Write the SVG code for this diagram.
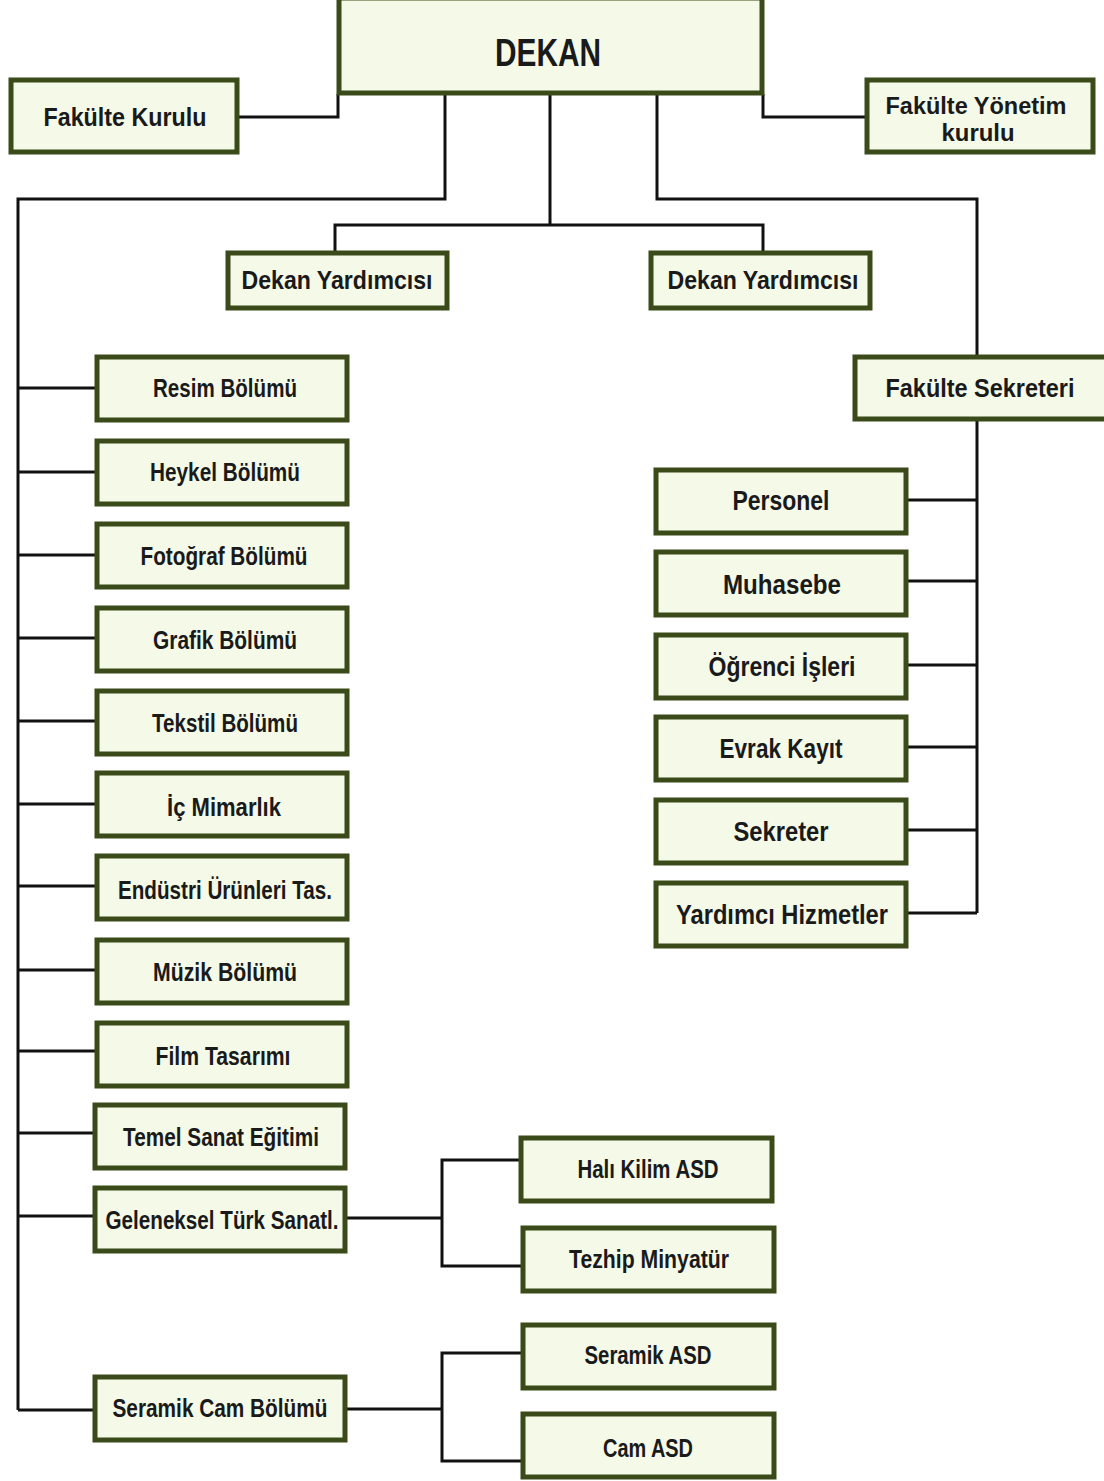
<svg xmlns="http://www.w3.org/2000/svg" width="1104" height="1481" viewBox="0 0 1104 1481">
<style>
.b rect{fill:#f4f9e8;stroke:#3a4a18;stroke-width:5}
.b text{font-family:"Liberation Sans",Arial,sans-serif;font-weight:bold;font-size:25px;fill:#1a1a1a;text-anchor:middle}
.b text.r{font-size:27px}
.b text.t{font-size:26px}
.b text.s{font-size:23px}
.c{fill:none;stroke:#111;stroke-width:3;stroke-linejoin:miter}
</style>
<rect width="1104" height="1481" fill="#fff"/>
<g id="connectors" class="c">
<path d="M238,117 H338 V94"/>
<path d="M763,94 V117 H866"/>
<path d="M445,94 V199 H18 V1410"/>
<path d="M550,94 V225"/>
<path d="M335,252 V225 H763 V252"/>
<path d="M657,94 V199 H977 V356"/>
<path d="M977,420 V913"/>
<path d="M907,500 H977 M907,581 H977 M907,665 H977 M907,747 H977 M907,830 H977 M907,913 H977"/>
<path d="M18,388 H96 M18,472 H96 M18,555 H96 M18,638 H96 M18,721 H96 M18,804 H96 M18,886 H96 M18,970 H96 M18,1051 H96 M18,1133 H94 M18,1216 H94 M18,1410 H94"/>
<path d="M346,1218 H442 M520,1160 H442 V1266 H522"/>
<path d="M346,1409 H442 M522,1353 H442 V1461 H522"/>
</g>
<g id="dekan" class="b"><rect x="339" y="-2" width="423" height="95"/><text x="548" y="66" style="font-size:38px" textLength="106" lengthAdjust="spacingAndGlyphs">DEKAN</text></g>
<g id="fakulte-kurulu" class="b"><rect x="11" y="80" width="226" height="72"/><text class="t" x="125" y="126" textLength="163" lengthAdjust="spacingAndGlyphs">Fakülte Kurulu</text></g>
<g id="fakulte-yonetim" class="b"><rect x="867" y="80" width="226" height="72"/><text class="s" x="976" y="114" textLength="181" lengthAdjust="spacingAndGlyphs">Fakülte Yönetim</text><text class="s" x="978" y="141" textLength="73" lengthAdjust="spacingAndGlyphs">kurulu</text></g>
<g id="dekan-yrd-1" class="b"><rect x="228" y="253" width="219" height="55"/><text class="t" x="337" y="289" textLength="191" lengthAdjust="spacingAndGlyphs">Dekan Yardımcısı</text></g>
<g id="dekan-yrd-2" class="b"><rect x="651" y="253" width="219" height="55"/><text class="t" x="763" y="289" textLength="191" lengthAdjust="spacingAndGlyphs">Dekan Yardımcısı</text></g>
<g id="fakulte-sekreteri" class="b"><rect x="855" y="357" width="252" height="62"/><text class="t" x="980" y="397" textLength="189" lengthAdjust="spacingAndGlyphs">Fakülte Sekreteri</text></g>
<g id="personel" class="b"><rect x="656" y="470" width="250" height="63"/><text class="r" x="781" y="510" textLength="97" lengthAdjust="spacingAndGlyphs">Personel</text></g>
<g id="muhasebe" class="b"><rect x="656" y="552" width="250" height="63"/><text class="r" x="782" y="594" textLength="118" lengthAdjust="spacingAndGlyphs">Muhasebe</text></g>
<g id="ogrenci" class="b"><rect x="656" y="635" width="250" height="63"/><text class="r" x="782" y="676" textLength="147" lengthAdjust="spacingAndGlyphs">Öğrenci İşleri</text></g>
<g id="evrak" class="b"><rect x="656" y="717" width="250" height="63"/><text class="r" x="781" y="758" textLength="123" lengthAdjust="spacingAndGlyphs">Evrak Kayıt</text></g>
<g id="sekreter" class="b"><rect x="656" y="800" width="250" height="63"/><text class="r" x="781" y="841" textLength="95" lengthAdjust="spacingAndGlyphs">Sekreter</text></g>
<g id="yardimci" class="b"><rect x="656" y="883" width="250" height="63"/><text class="r" x="782" y="924" textLength="212" lengthAdjust="spacingAndGlyphs">Yardımcı Hizmetler</text></g>
<g id="resim" class="b"><rect x="97" y="357" width="250" height="63"/><text x="225" y="397" textLength="144" lengthAdjust="spacingAndGlyphs">Resim Bölümü</text></g>
<g id="heykel" class="b"><rect x="97" y="441" width="250" height="63"/><text x="225" y="481" textLength="150" lengthAdjust="spacingAndGlyphs">Heykel Bölümü</text></g>
<g id="fotograf" class="b"><rect x="97" y="524" width="250" height="63"/><text x="224" y="565" textLength="167" lengthAdjust="spacingAndGlyphs">Fotoğraf Bölümü</text></g>
<g id="grafik" class="b"><rect x="97" y="608" width="250" height="63"/><text x="225" y="649" textLength="144" lengthAdjust="spacingAndGlyphs">Grafik Bölümü</text></g>
<g id="tekstil" class="b"><rect x="97" y="691" width="250" height="63"/><text x="225" y="732" textLength="146" lengthAdjust="spacingAndGlyphs">Tekstil Bölümü</text></g>
<g id="ic-mimarlik" class="b"><rect x="97" y="773" width="250" height="63"/><text x="224" y="816" textLength="114" lengthAdjust="spacingAndGlyphs">İç Mimarlık</text></g>
<g id="endustri" class="b"><rect x="97" y="856" width="250" height="63"/><text x="225" y="899" textLength="214" lengthAdjust="spacingAndGlyphs">Endüstri Ürünleri Tas.</text></g>
<g id="muzik" class="b"><rect x="97" y="940" width="250" height="63"/><text x="225" y="981" textLength="144" lengthAdjust="spacingAndGlyphs">Müzik Bölümü</text></g>
<g id="film" class="b"><rect x="97" y="1023" width="250" height="63"/><text x="223" y="1065" textLength="135" lengthAdjust="spacingAndGlyphs">Film Tasarımı</text></g>
<g id="temel" class="b"><rect x="95" y="1105" width="250" height="63"/><text x="221" y="1146" textLength="196" lengthAdjust="spacingAndGlyphs">Temel Sanat Eğitimi</text></g>
<g id="geleneksel" class="b"><rect x="95" y="1188" width="250" height="63"/><text x="222" y="1229" textLength="233" lengthAdjust="spacingAndGlyphs">Geleneksel Türk Sanatl.</text></g>
<g id="seramik-cam" class="b"><rect x="95" y="1377" width="250" height="63"/><text x="220" y="1417" textLength="215" lengthAdjust="spacingAndGlyphs">Seramik Cam Bölümü</text></g>
<g id="hali-kilim" class="b"><rect x="521" y="1138" width="251" height="63"/><text x="648" y="1178" textLength="141" lengthAdjust="spacingAndGlyphs">Halı Kilim ASD</text></g>
<g id="tezhip" class="b"><rect x="523" y="1228" width="251" height="63"/><text x="649" y="1268" textLength="160" lengthAdjust="spacingAndGlyphs">Tezhip Minyatür</text></g>
<g id="seramik-asd" class="b"><rect x="523" y="1325" width="251" height="63"/><text x="648" y="1364" textLength="127" lengthAdjust="spacingAndGlyphs">Seramik ASD</text></g>
<g id="cam-asd" class="b"><rect x="523" y="1414" width="251" height="63"/><text x="648" y="1457" textLength="90" lengthAdjust="spacingAndGlyphs">Cam ASD</text></g>
</svg>
